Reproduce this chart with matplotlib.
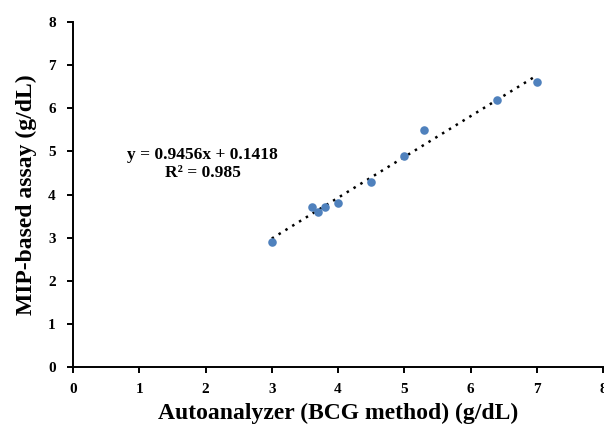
import matplotlib
matplotlib.use("Agg")
import matplotlib.pyplot as plt
import numpy as np

x_vals = [3.0, 3.6, 3.7, 3.8, 4.0, 4.5, 5.0, 5.3, 6.4, 7.0]
y_vals = [2.9, 3.7, 3.6, 3.7, 3.8, 4.3, 4.9, 5.5, 6.2, 6.6]
slope = 0.9456
intercept = 0.1418
r2 = 0.985
ticks = [0, 1, 2, 3, 4, 5, 6, 7, 8]

plt.rcParams['font.family'] = ['Liberation Serif', 'DejaVu Serif']
plt.rcParams['font.weight'] = 'bold'

fig = plt.figure(figsize=(6.04, 4.29), dpi=100)
ax = fig.add_axes([0.1209, 0.1445, 0.8775, 0.8042])

ax.scatter(x_vals, y_vals, s=38, color='#4F81BD', zorder=3, linewidths=0)
xl = np.array([min(x_vals), max(x_vals)])
ax.plot(xl, slope * xl + intercept, linestyle=(0, (1, 2.2)), color='black', linewidth=1.8, zorder=2)

ax.set_xlim(0, 8)
ax.set_ylim(0, 8)
ax.set_xticks(ticks)
ax.set_yticks(ticks)
ax.set_xticklabels([str(t) for t in ticks], fontsize=11, fontweight='bold')
ax.set_yticklabels([str(t) for t in ticks], fontsize=11, fontweight='bold')
for s in ['top', 'right']:
    ax.spines[s].set_visible(False)
for s in ['left', 'bottom']:
    ax.spines[s].set_linewidth(1.4)
ax.tick_params(axis='x', direction='out', length=4, width=1.4, pad=7.5)
ax.tick_params(axis='y', direction='out', length=4, width=1.4, pad=8.5)

ax.set_xlabel('Autoanalyzer (BCG method) (g/dL)', fontsize=17, fontweight='bold', labelpad=5)
ax.set_ylabel('MIP-based assay (g/dL)', fontsize=17, fontweight='bold', labelpad=8)

ax.text(1.96, 4.92, f'y = {slope}x + {intercept}', ha='center', va='center', fontsize=12.5, fontweight='bold')
ax.text(1.96, 4.50, f'R² = {r2}', ha='center', va='center', fontsize=12.5, fontweight='bold')

fig.savefig('out.png', dpi=100)
